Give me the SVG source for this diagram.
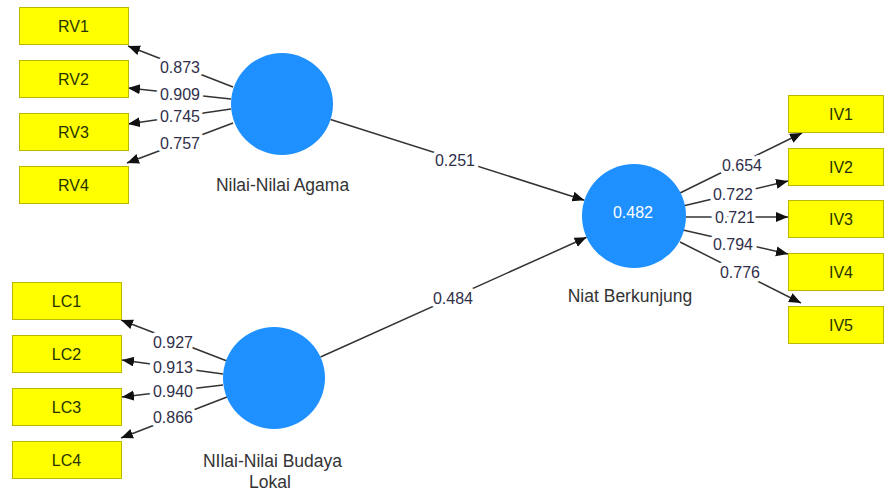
<svg xmlns="http://www.w3.org/2000/svg" width="885" height="493" viewBox="0 0 885 493">
<style>
.box{fill:#ffff00;stroke:#b8b800;stroke-width:1}
.bt{font-family:"Liberation Sans",Arial,sans-serif;font-size:16px;fill:#263300;text-anchor:middle}
.lv{fill:#1e90ff}
.nl{font-family:"Liberation Sans",Arial,sans-serif;font-size:17.5px;fill:#333;text-anchor:middle}
.cn line{stroke:#333;stroke-width:1.5;marker-end:url(#ah)}
.num{font-family:"Liberation Sans",Arial,sans-serif;font-size:16px;fill:#2f2f4a;text-anchor:middle;stroke:#fff;stroke-width:8;paint-order:stroke;stroke-linejoin:round}
.in{font-family:"Liberation Sans",Arial,sans-serif;font-size:16px;fill:#fff;text-anchor:middle}
</style>
<defs>
<marker id="ah" markerUnits="userSpaceOnUse" markerWidth="13" markerHeight="11" refX="12" refY="5" orient="auto">
<path d="M0,0 L12,5 L0,10 z" fill="#111"/>
</marker>
</defs>
<rect width="885" height="493" fill="#fff"/>

<g id="connectors" class="cn">
<line x1="233" y1="87" x2="128" y2="46"/>
<line x1="231" y1="99" x2="128" y2="88"/>
<line x1="231" y1="109" x2="128" y2="124"/>
<line x1="233" y1="123" x2="127" y2="163"/>
<line x1="227" y1="361" x2="121" y2="320"/>
<line x1="223" y1="374" x2="122" y2="360"/>
<line x1="223" y1="385" x2="122" y2="397"/>
<line x1="227" y1="397" x2="121" y2="438"/>
<line x1="680" y1="193" x2="802" y2="133"/>
<line x1="683" y1="206" x2="788" y2="181"/>
<line x1="686" y1="217" x2="788" y2="217"/>
<line x1="683" y1="230" x2="788" y2="254"/>
<line x1="680" y1="242" x2="801" y2="303"/>
<line x1="330.6" y1="119.5" x2="584.4" y2="200.2"/>
<line x1="320.5" y1="357" x2="586.6" y2="237.3"/>
</g>

<g id="labels">
<text class="num" x="180" y="72.5">0.873</text>
<text class="num" x="180" y="99.5">0.909</text>
<text class="num" x="180" y="121.5">0.745</text>
<text class="num" x="180" y="148.5">0.757</text>
<text class="num" x="173" y="347.5">0.927</text>
<text class="num" x="173" y="372.5">0.913</text>
<text class="num" x="173" y="396.5">0.940</text>
<text class="num" x="173" y="422.5">0.866</text>
<text class="num" x="742" y="170.5">0.654</text>
<text class="num" x="733" y="199.5">0.722</text>
<text class="num" x="735" y="222.5">0.721</text>
<text class="num" x="733" y="249.5">0.794</text>
<text class="num" x="740" y="277.5">0.776</text>
<text class="num" x="455" y="166">0.251</text>
<text class="num" x="453" y="303.5">0.484</text>
</g>

<g id="RV1"><rect class="box" x="19.5" y="7.5" width="109" height="37"/><text class="bt" x="73.5" y="32">RV1</text></g>
<g id="RV2"><rect class="box" x="19.5" y="60.5" width="109" height="37"/><text class="bt" x="73.5" y="85">RV2</text></g>
<g id="RV3"><rect class="box" x="19.5" y="113.5" width="109" height="37"/><text class="bt" x="73.5" y="138">RV3</text></g>
<g id="RV4"><rect class="box" x="19.5" y="166.5" width="109" height="37"/><text class="bt" x="73.5" y="191">RV4</text></g>

<g id="LC1"><rect class="box" x="12.5" y="282.5" width="109" height="37"/><text class="bt" x="66.5" y="307">LC1</text></g>
<g id="LC2"><rect class="box" x="12.5" y="335.5" width="109" height="37"/><text class="bt" x="66.5" y="360">LC2</text></g>
<g id="LC3"><rect class="box" x="12.5" y="388.5" width="109" height="37"/><text class="bt" x="66.5" y="413">LC3</text></g>
<g id="LC4"><rect class="box" x="12.5" y="441.5" width="109" height="37"/><text class="bt" x="66.5" y="466">LC4</text></g>

<g id="IV1"><rect class="box" x="788.5" y="95.5" width="95" height="37"/><text class="bt" x="841" y="120">IV1</text></g>
<g id="IV2"><rect class="box" x="788.5" y="148.5" width="95" height="37"/><text class="bt" x="841" y="173">IV2</text></g>
<g id="IV3"><rect class="box" x="788.5" y="200.5" width="95" height="37"/><text class="bt" x="841" y="225">IV3</text></g>
<g id="IV4"><rect class="box" x="788.5" y="253.5" width="95" height="37"/><text class="bt" x="841" y="278">IV4</text></g>
<g id="IV5"><rect class="box" x="788.5" y="306.5" width="95" height="37"/><text class="bt" x="841" y="331">IV5</text></g>

<g id="agama"><circle class="lv" cx="282" cy="104" r="51"/><text class="nl" x="282.5" y="191">Nilai-Nilai Agama</text></g>
<g id="budaya"><circle class="lv" cx="274" cy="378" r="51"/><text class="nl" x="272.5" y="467">NIlai-Nilai Budaya</text><text class="nl" x="270" y="488">Lokal</text></g>
<g id="niat"><circle class="lv" cx="634" cy="216" r="52"/><text class="in" x="633" y="217.5">0.482</text><text class="nl" x="630" y="302">Niat Berkunjung</text></g>
</svg>
